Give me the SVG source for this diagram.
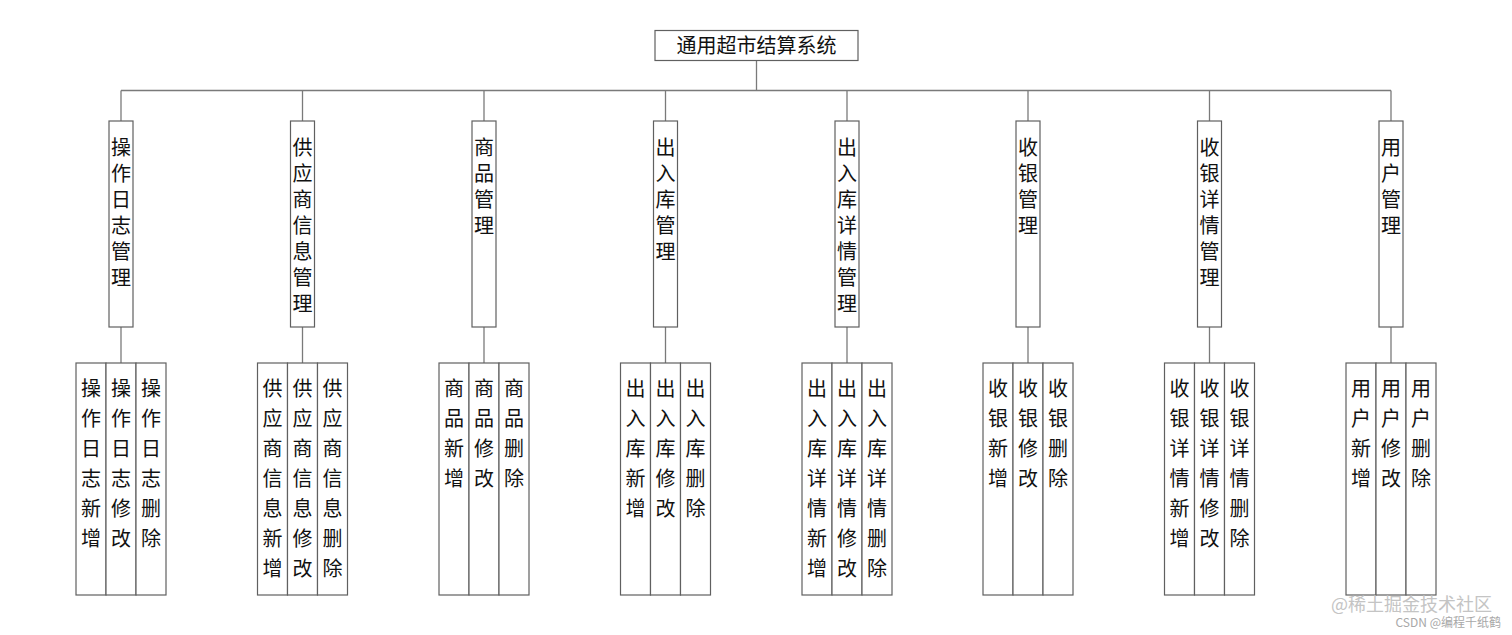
<svg xmlns="http://www.w3.org/2000/svg" width="1512" height="635" viewBox="0 0 1512 635">
<style>
.bg{fill:#ffffff}
.box{fill:#ffffff;stroke:#606060;stroke-width:1.2}
.conn line{stroke:#7a7a7a;stroke-width:1.3}
.t{font-family:"Noto Sans CJK SC","Noto Sans",sans-serif;font-size:20px;fill:#111}
.v{writing-mode:vertical-rl;text-anchor:start}
.vb{letter-spacing:6px}
.vl{letter-spacing:10px}
.wm{font-family:"Noto Sans CJK SC","Liberation Sans",sans-serif;fill:#c4c4c4;text-anchor:end}
</style>
<rect class="bg" x="0" y="0" width="1512" height="635"/>
<g id="connectors" class="conn">
<line x1="756.5" y1="60.5" x2="756.5" y2="90.5"/>
<line x1="121" y1="90.5" x2="1391" y2="90.5"/>
<line x1="121" y1="90.5" x2="121" y2="121"/><line x1="121" y1="327" x2="121" y2="363"/>
<line x1="302.5" y1="90.5" x2="302.5" y2="121"/><line x1="302.5" y1="327" x2="302.5" y2="363"/>
<line x1="484" y1="90.5" x2="484" y2="121"/><line x1="484" y1="327" x2="484" y2="363"/>
<line x1="665.5" y1="90.5" x2="665.5" y2="121"/><line x1="665.5" y1="327" x2="665.5" y2="363"/>
<line x1="847" y1="90.5" x2="847" y2="121"/><line x1="847" y1="327" x2="847" y2="363"/>
<line x1="1028" y1="90.5" x2="1028" y2="121"/><line x1="1028" y1="327" x2="1028" y2="363"/>
<line x1="1209.5" y1="90.5" x2="1209.5" y2="121"/><line x1="1209.5" y1="327" x2="1209.5" y2="363"/>
<line x1="1391" y1="90.5" x2="1391" y2="121"/><line x1="1391" y1="327" x2="1391" y2="363"/>
</g>
<g id="root">
<rect class="box" x="655" y="30.5" width="203" height="30"/>
<text class="t" x="756.5" y="53" text-anchor="middle" font-size="19.5">通用超市结算系统</text>
</g>
<g id="b1">
<rect class="box" x="109" y="121" width="24" height="206"/>
<text class="t v vb" x="121" y="137">操作日志管理</text>
</g>
<g id="b1-leaves">
<rect class="box" x="76" y="363" width="30" height="232"/><text class="t v vl" x="91" y="378">操作日志新增</text>
<rect class="box" x="106" y="363" width="30" height="232"/><text class="t v vl" x="121" y="378">操作日志修改</text>
<rect class="box" x="136" y="363" width="30" height="232"/><text class="t v vl" x="151" y="378">操作日志删除</text>
</g>
<g id="b2">
<rect class="box" x="290.5" y="121" width="24" height="206"/>
<text class="t v vb" x="302.5" y="137">供应商信息管理</text>
</g>
<g id="b2-leaves">
<rect class="box" x="257.5" y="363" width="30" height="232"/><text class="t v vl" x="272.5" y="378">供应商信息新增</text>
<rect class="box" x="287.5" y="363" width="30" height="232"/><text class="t v vl" x="302.5" y="378">供应商信息修改</text>
<rect class="box" x="317.5" y="363" width="30" height="232"/><text class="t v vl" x="332.5" y="378">供应商信息删除</text>
</g>
<g id="b3">
<rect class="box" x="472" y="121" width="24" height="206"/>
<text class="t v vb" x="484" y="137">商品管理</text>
</g>
<g id="b3-leaves">
<rect class="box" x="439" y="363" width="30" height="232"/><text class="t v vl" x="454" y="378">商品新增</text>
<rect class="box" x="469" y="363" width="30" height="232"/><text class="t v vl" x="484" y="378">商品修改</text>
<rect class="box" x="499" y="363" width="30" height="232"/><text class="t v vl" x="514" y="378">商品删除</text>
</g>
<g id="b4">
<rect class="box" x="653.5" y="121" width="24" height="206"/>
<text class="t v vb" x="665.5" y="137">出入库管理</text>
</g>
<g id="b4-leaves">
<rect class="box" x="620.5" y="363" width="30" height="232"/><text class="t v vl" x="635.5" y="378">出入库新增</text>
<rect class="box" x="650.5" y="363" width="30" height="232"/><text class="t v vl" x="665.5" y="378">出入库修改</text>
<rect class="box" x="680.5" y="363" width="30" height="232"/><text class="t v vl" x="695.5" y="378">出入库删除</text>
</g>
<g id="b5">
<rect class="box" x="835" y="121" width="24" height="206"/>
<text class="t v vb" x="847" y="137">出入库详情管理</text>
</g>
<g id="b5-leaves">
<rect class="box" x="802" y="363" width="30" height="232"/><text class="t v vl" x="817" y="378">出入库详情新增</text>
<rect class="box" x="832" y="363" width="30" height="232"/><text class="t v vl" x="847" y="378">出入库详情修改</text>
<rect class="box" x="862" y="363" width="30" height="232"/><text class="t v vl" x="877" y="378">出入库详情删除</text>
</g>
<g id="b6">
<rect class="box" x="1016" y="121" width="24" height="206"/>
<text class="t v vb" x="1028" y="137">收银管理</text>
</g>
<g id="b6-leaves">
<rect class="box" x="983" y="363" width="30" height="232"/><text class="t v vl" x="998" y="378">收银新增</text>
<rect class="box" x="1013" y="363" width="30" height="232"/><text class="t v vl" x="1028" y="378">收银修改</text>
<rect class="box" x="1043" y="363" width="30" height="232"/><text class="t v vl" x="1058" y="378">收银删除</text>
</g>
<g id="b7">
<rect class="box" x="1197.5" y="121" width="24" height="206"/>
<text class="t v vb" x="1209.5" y="137">收银详情管理</text>
</g>
<g id="b7-leaves">
<rect class="box" x="1164.5" y="363" width="30" height="232"/><text class="t v vl" x="1179.5" y="378">收银详情新增</text>
<rect class="box" x="1194.5" y="363" width="30" height="232"/><text class="t v vl" x="1209.5" y="378">收银详情修改</text>
<rect class="box" x="1224.5" y="363" width="30" height="232"/><text class="t v vl" x="1239.5" y="378">收银详情删除</text>
</g>
<g id="b8">
<rect class="box" x="1379" y="121" width="24" height="206"/>
<text class="t v vb" x="1391" y="137">用户管理</text>
</g>
<g id="b8-leaves">
<rect class="box" x="1346" y="363" width="30" height="232"/><text class="t v vl" x="1361" y="378">用户新增</text>
<rect class="box" x="1376" y="363" width="30" height="232"/><text class="t v vl" x="1391" y="378">用户修改</text>
<rect class="box" x="1406" y="363" width="30" height="232"/><text class="t v vl" x="1421" y="378">用户删除</text>
</g>
<g id="watermark">
<text class="wm" x="1492" y="611" font-size="18">@稀土掘金技术社区</text>
<text class="wm" x="1501" y="627" font-size="12" fill="#aaaaaa" style="fill:#a8a8a8">CSDN @编程千纸鹤</text>
</g>
</svg>
